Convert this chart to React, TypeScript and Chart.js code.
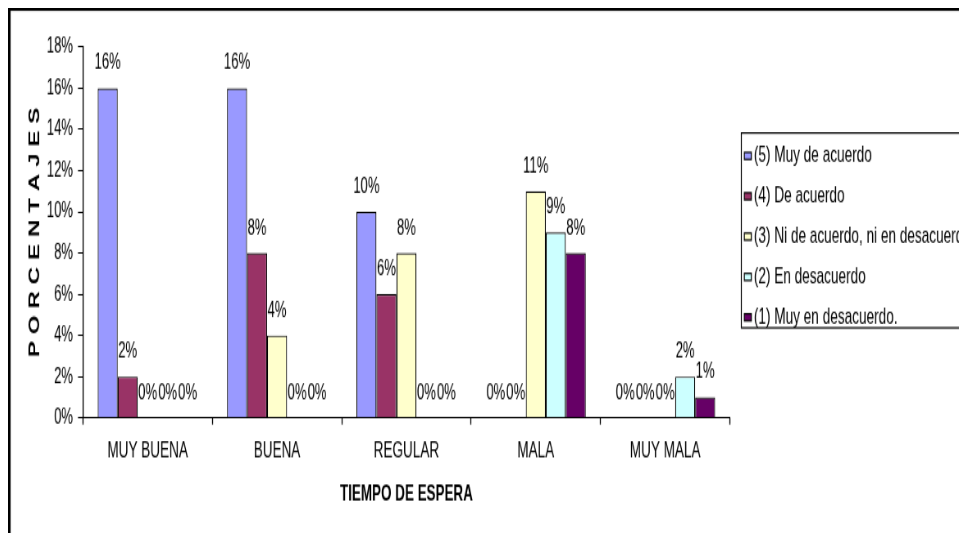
import React, { useEffect, useRef } from "react";
import { Chart, registerables } from "chart.js";

Chart.register(...registerables);

// ---- data ----
const categories = ["MUY BUENA", "BUENA", "REGULAR", "MALA", "MUY MALA"];
const seriesNames = [
  "(5) Muy de acuerdo",
  "(4) De acuerdo",
  "(3) Ni de acuerdo, ni en desacuerdo",
  "(2) En desacuerdo",
  "(1) Muy en desacuerdo.",
];
const muyDeAcuerdo = [16, 16, 10, 0, 0];
const deAcuerdo = [2, 8, 6, 0, 0];
const niDeAcuerdo = [0, 4, 8, 11, 0];
const enDesacuerdo = [0, 0, 0, 9, 2];
const muyEnDesacuerdo = [0, 0, 0, 8, 1];
const seriesColors = ["#9999FF", "#993366", "#FFFFCC", "#CCFFFF", "#660066"];
const yMin = 0;
const yMax = 18;
const yStep = 2;
const xTitle = "TIEMPO DE ESPERA";
const yTitle = "PORCENTAJES";

// ---- layout: canvas drawn at W x H, shown scaled by SX horizontally and SY vertically ----
const SX = 0.82;
const SY = 1.35;
const DISPLAY_W = 1010;
const W = Math.round(DISPLAY_W / SX);
const H = 415;
const X = (v: number) => v / SX; // display px -> canvas px (horizontal)
const FONT = "'Liberation Sans', Arial, sans-serif";
const AREA_TOP = 28.9;
const AREA_BOTTOM = 303.7;
const AREA_LEFT = X(75);
const AREA_RIGHT = X(722);

const frame = {
  id: "frame",
  beforeDraw(chart: any) {
    const ctx = chart.ctx;
    ctx.save();
    ctx.fillStyle = "#fff";
    ctx.fillRect(0, 0, chart.width, chart.height);
    ctx.restore();
  },
  afterDraw(chart: any) {
    const ctx = chart.ctx;
    ctx.save();
    ctx.fillStyle = "#000";
    ctx.fillRect(0, 0, chart.width, 2.1);
    ctx.fillRect(0, 0, X(2.6), chart.height);
    ctx.restore();
  },
};

const valueLabels = {
  id: "valueLabels",
  afterDatasetsDraw(chart: any) {
    const ctx = chart.ctx;
    ctx.save();
    ctx.fillStyle = "#000";
    ctx.font = `16px ${FONT}`;
    ctx.textAlign = "center";
    ctx.textBaseline = "alphabetic";
    chart.data.datasets.forEach((ds: any, i: number) => {
      const meta = chart.getDatasetMeta(i);
      meta.data.forEach((el: any, j: number) => {
        ctx.fillText(`${ds.data[j]}%`, el.x, el.y - 14);
      });
    });
    ctx.restore();
  },
};

const boxedLegend = {
  id: "boxedLegend",
  afterDraw(chart: any) {
    const ctx = chart.ctx;
    const left = chart.chartArea.right + X(11);
    const top = 92.6;
    const bottom = 237;
    ctx.save();
    ctx.strokeStyle = "#000";
    ctx.lineWidth = 1.2;
    ctx.strokeRect(left + 0.6, top, chart.width - left - 8, bottom - top);
    ctx.font = `16.6px ${FONT}`;
    ctx.textBaseline = "middle";
    ctx.textAlign = "left";
    chart.data.datasets.forEach((ds: any, i: number) => {
      const cy = 109.6 + 29.9 * i;
      const mx = left + X(3.5);
      const mh = 5.2;
      ctx.fillStyle = ds.backgroundColor;
      ctx.fillRect(mx, cy - mh / 2, X(7), mh);
      ctx.strokeStyle = "#000";
      ctx.lineWidth = 1.2;
      ctx.strokeRect(mx, cy - mh / 2, X(7), mh);
      ctx.fillStyle = "#000";
      ctx.fillText(ds.label, left + X(13), cy);
    });
    ctx.restore();
  },
};

export default function App() {
  const ref = useRef<HTMLCanvasElement>(null);
  useEffect(() => {
    const canvas = ref.current!;
    const seriesData = [muyDeAcuerdo, deAcuerdo, niDeAcuerdo, enDesacuerdo, muyEnDesacuerdo];
    const chart = new Chart(canvas, {
      type: "bar",
      data: {
        labels: categories,
        datasets: seriesData.map((d, i) => ({
          label: seriesNames[i],
          data: d,
          backgroundColor: seriesColors[i],
          borderColor: "#000",
          borderWidth: 1.2,
        })),
      },
      options: {
        responsive: false,
        animation: false,
        devicePixelRatio: 1,
        layout: { padding: { top: AREA_TOP, left: 0, right: W - AREA_RIGHT, bottom: 0 } },
        datasets: { bar: { categoryPercentage: 0.773, barPercentage: 1 } },
        plugins: { legend: { display: false }, tooltip: { enabled: false } },
        scales: {
          x: {
            grid: {
              display: true,
              drawOnChartArea: false,
              drawTicks: true,
              tickLength: 5,
              tickWidth: 1.3,
              color: "#000",
              offset: true,
            },
            border: { display: true, color: "#000", width: 1 },
            ticks: { color: "#000", font: { family: FONT, size: 16.5 }, padding: 10, maxRotation: 0 },
            title: {
              display: true,
              text: xTitle,
              color: "#000",
              font: { family: FONT, size: 16.4, weight: "bold" },
              padding: { top: 0, bottom: 45 },
            },
            afterFit: (s: any) => {
              s.height = H - AREA_BOTTOM;
            },
          },
          y: {
            min: yMin,
            max: yMax,
            ticks: {
              stepSize: yStep,
              color: "#000",
              font: { family: FONT, size: 16 },
              padding: X(5),
              callback: (v: any) => `${v}%`,
            },
            grid: {
              display: true,
              drawOnChartArea: false,
              drawTicks: true,
              tickLength: X(5),
              color: "#000",
            },
            border: { display: true, color: "#000", width: 1.3 },
            title: {
              display: true,
              text: yTitle.split("").join(" "),
              color: "#000",
              font: { family: FONT, size: 18, weight: "bold" },
              padding: { top: X(27) - 10.8, bottom: 0 },
            },
            afterFit: (s: any) => {
              s.width = AREA_LEFT;
            },
          },
        },
      },
      plugins: [frame, valueLabels, boxedLegend],
    } as any);
    return () => chart.destroy();
  }, []);
  return (
    <div style={{ width: 959, height: 525, overflow: "hidden" }}>
      <canvas
        ref={ref}
        width={W}
        height={H}
        style={{ width: `${W * SX}px`, height: `${H * SY}px`, display: "block" }}
      />
    </div>
  );
}
